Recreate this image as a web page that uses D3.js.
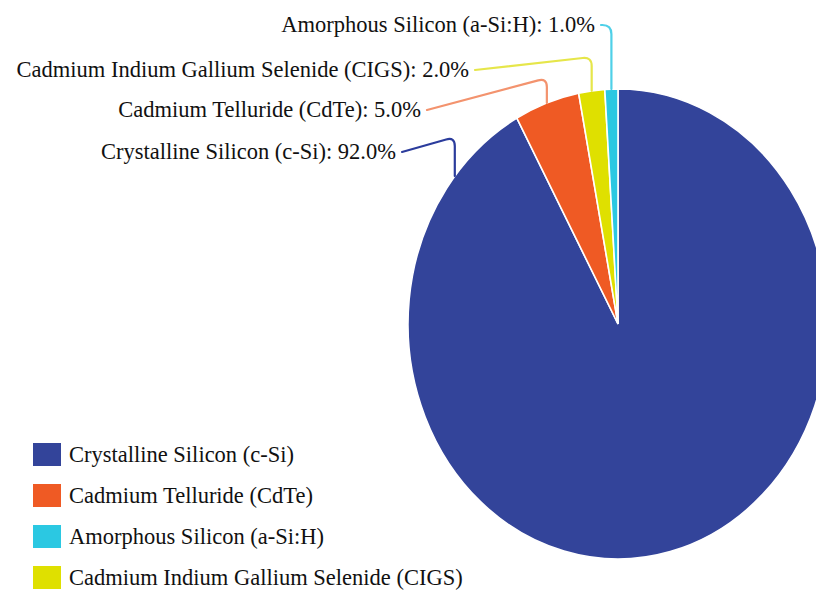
<!DOCTYPE html>
<html>
<head>
<meta charset="utf-8">
<script src="https://cdn.jsdelivr.net/npm/d3@7/dist/d3.min.js"></script>
<style>
  body { margin: 0; background: #fff; }
</style>
</head>
<body>
<svg id="chart" width="816" height="590"></svg>
<script>
// dados
var categories = ["Crystalline Silicon (c-Si)", "Cadmium Telluride (CdTe)",
                  "Cadmium Indium Gallium Selenide (CIGS)", "Amorphous Silicon (a-Si:H)"];
var values = [92.0, 5.0, 2.0, 1.0];
var colors = ["#33449a", "#ef5a24", "#dfe000", "#2bc8e2"];
var lineColors = ["#2b3c9c", "#f3936e", "#e6e64a", "#4fd0e8"];

// ordem da legenda
var legendOrder = ["Crystalline Silicon (c-Si)", "Cadmium Telluride (CdTe)",
                   "Amorphous Silicon (a-Si:H)", "Cadmium Indium Gallium Selenide (CIGS)"];

// posição dos rótulos (fim da linha, cotovelo, ângulo de ligação)
var labelLayout = [
  {end: [402, 152], elbowY: 137, angle: -51},
  {end: [427, 110], elbowY: 78, angle: null},
  {end: [475, 70], elbowY: 57, angle: null},
  {end: [601, 25], elbowY: 25, angle: null}
];

var fontFamily = "'Liberation Serif', Tinos, 'Times New Roman', 'Nimbus Roman', 'DejaVu Serif', serif";

var svg = d3.select("#chart");
var cx = 618, cy = 324, r = 235, sx = 210 / 235;

var pie = d3.pie().sort(null).value(function(d) { return d; });
var arcs = pie(values);
var arc = d3.arc().innerRadius(0).outerRadius(r);

var g = svg.append("g")
   .attr("transform", "translate(" + cx + "," + cy + ") scale(" + sx + ",1)");

g.selectAll("path")
   .data(arcs)
   .enter().append("path")
   .attr("d", arc)
   .style("fill", function(d, i) { return colors[i]; })
   .style("stroke", "#fff")
   .style("stroke-width", 1.6)
   .style("vector-effect", "non-scaling-stroke");

// ponto na borda da elipse
function edgePoint(deg) {
  var a = deg * Math.PI / 180;
  return [cx + Math.sin(a) * r * sx, cy - Math.cos(a) * r];
}

// linhas e rótulos
arcs.forEach(function(d, i) {
  var lay = labelLayout[i];
  var deg = lay.angle != null ? lay.angle : ((d.startAngle + d.endAngle) / 2) * 180 / Math.PI;
  var p0 = edgePoint(deg);
  var ex = p0[0], ey = lay.elbowY;
  var rad = 9;
  var dx = lay.end[0] - ex, dy = lay.end[1] - ey;
  var len = Math.sqrt(dx * dx + dy * dy);
  var p2 = [ex + dx / len * rad, ey + dy / len * rad];
  var path = d3.path();
  path.moveTo(p0[0], p0[1]);
  path.lineTo(ex, ey + rad);
  path.quadraticCurveTo(ex, ey, p2[0], p2[1]);
  path.lineTo(lay.end[0], lay.end[1]);
  svg.append("path")
     .attr("d", path.toString())
     .style("fill", "none")
     .style("stroke", lineColors[i])
     .style("stroke-width", 2.2)
     .style("stroke-linecap", "round");

  svg.append("text")
     .attr("x", lay.end[0] - 6)
     .attr("y", lay.end[1] + 7)
     .attr("text-anchor", "end")
     .attr("font-family", fontFamily)
     .attr("font-size", 22.5)
     .attr("fill", "#111")
     .text(categories[i] + ": " + d3.format(".1f")(values[i]) + "%");
});

// legenda
var legendY = d3.scalePoint().domain(legendOrder).range([455, 578]);
var legend = svg.append("g");
legendOrder.forEach(function(name) {
  var i = categories.indexOf(name);
  var y = legendY(name);
  legend.append("rect")
     .attr("x", 33).attr("y", y - 12)
     .attr("width", 28).attr("height", 23)
     .style("fill", colors[i]);
  legend.append("text")
     .attr("x", 69).attr("y", y + 7)
     .attr("font-family", fontFamily)
     .attr("font-size", 22.5)
     .attr("fill", "#111")
     .text(name);
});
</script>
</body>
</html>
